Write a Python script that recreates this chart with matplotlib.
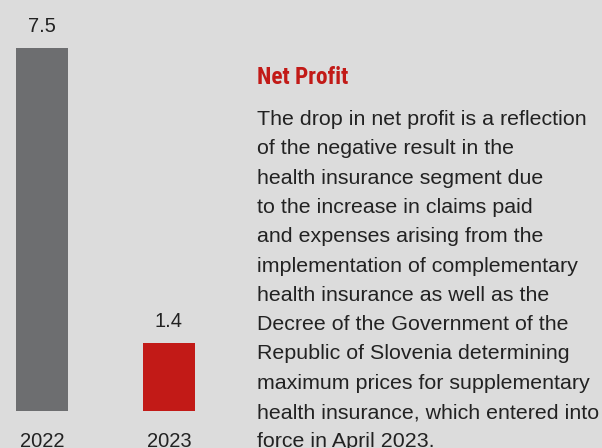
import matplotlib.pyplot as plt

years = ['2022', '2023']
profit = [7.5, 1.4]
bar_colors = ['#6d6e70', '#c21a17']

title = 'Net Profit'
body_lines = [
    'The drop in net profit is a reflection',
    'of the negative result in the',
    'health insurance segment due',
    'to the increase in claims paid',
    'and expenses arising from the',
    'implementation of complementary',
    'health insurance as well as the',
    'Decree of the Government of the',
    'Republic of Slovenia determining',
    'maximum prices for supplementary',
    'health insurance, which entered into',
    'force in April 2023.',
]

BG = '#dcdcdc'
W, H = 602, 448

fig = plt.figure(figsize=(W / 100, H / 100), dpi=100, facecolor=BG)
ax = fig.add_axes([0, 1 - 411 / H, 216 / W, 411 / H])
ax.set_facecolor(BG)

x = list(range(len(years)))
ax.bar(x, profit, width=52 / 127, color=bar_colors)
ax.set_xlim(-42 / 127, (216 - 42) / 127)
ax.set_ylim(0, 411 / 48.4)
ax.axis('off')

font = ['Liberation Sans', 'DejaVu Sans']
for xi, v in zip(x, profit):
    ax.annotate(f'{v:.1f}', (xi, v), xytext=(0, 11.5), textcoords='offset points',
                ha='center', va='baseline', fontsize=14.5, color='#222222', family=font)
    ax.annotate(years[xi], (xi, 0), xytext=(0, -26), textcoords='offset points',
                ha='center', va='baseline', fontsize=14.5, color='#222222', family=font,
                annotation_clip=False)

fig.text(257 / W, 1 - 84 / H, title, ha='left', va='baseline', fontsize=16.8,
         fontweight='bold', color='#c21a17',
         family=['Liberation Sans Narrow', 'Roboto Condensed', 'Roboto', 'DejaVu Sans'])

for i, line in enumerate(body_lines):
    fig.text(257 / W, 1 - (125 + i * 29.3) / H, line, ha='left', va='baseline',
             fontsize=15.4, color='#222222', family=font)

fig.savefig('out.png', dpi=100, facecolor=BG)
